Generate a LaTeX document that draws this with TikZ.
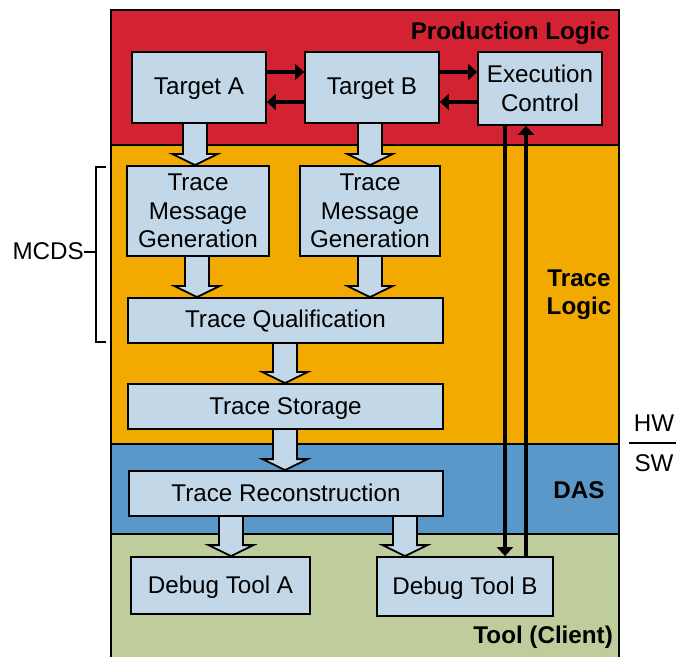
\documentclass[tikz,border=0pt]{standalone}
\usepackage{fontspec}
\setmainfont{Liberation Sans}
\usetikzlibrary{arrows.meta,calc}
\pgfdeclarelayer{bands}
\pgfdeclarelayer{shafts}
\pgfsetlayers{bands,shafts,main}
\definecolor{prodred}{RGB}{211,35,51}
\definecolor{traceorange}{RGB}{242,169,0}
\definecolor{dasblue}{RGB}{90,152,202}
\definecolor{toolgreen}{RGB}{190,205,155}
\definecolor{boxfill}{RGB}{194,216,232}
\newcommand\diagfont{\fontsize{24.2}{28.5}\selectfont}
\tikzset{
  band/.style={draw=black, line width=1.8pt},
  unitbox/.style={draw=black, line width=1.8pt, fill=boxfill, inner sep=0pt, align=center},
  oneline/.style={text height=20pt, text depth=5pt},
  bandlabel/.style={font=\diagfont\bfseries, inner sep=0pt},
  blockarrow/.style={draw=black, line width=1.8pt, fill=boxfill, line join=miter},
  thinarrow/.style={line width=3.4pt, -{Triangle[length=9pt,width=16pt]}},
  bracket/.style={line width=1.8pt},
}
% block arrow at horizontal position #1 from node #2 down to node #3
\newcommand\blockarrow[3]{%
  \begin{pgfonlayer}{shafts}
  \draw[blockarrow] let \p1=(#2.south), \p2=(#3.north) in
    (#1pt-12pt,\y1) -- (#1pt-12pt,\y2+11pt) -- (#1pt-22.5pt,\y2+11pt)
    -- (#1pt,\y2) -- (#1pt+22.5pt,\y2+11pt) -- (#1pt+12pt,\y2+11pt)
    -- (#1pt+12pt,\y1);
  \end{pgfonlayer}}
\begin{document}
\begin{tikzpicture}[x=1pt,y=1pt,font=\diagfont]
\useasboundingbox (0,0) rectangle (676,656);

% layer bands
\begin{pgfonlayer}{bands}
\fill[white] (0,0) rectangle (676,656);
\draw[band, fill=toolgreen] (111,122) rectangle (619,-5);
\draw[band, fill=dasblue] (111,212) rectangle (619,122);
\draw[band, fill=traceorange] (111,511) rectangle (619,212);
\draw[band, fill=prodred] (111,646) rectangle (619,511);
\end{pgfonlayer}

% band titles
\node[bandlabel, anchor=base east] (lprod) at (610,616.5) {Production Logic};
\node[bandlabel, anchor=base, align=center] (ltrace) at (579,341) {Trace\\Logic};
\node[bandlabel, anchor=base] (ldas) at (579,158) {DAS};
\node[bandlabel, anchor=base east] (ltool) at (613,13) {Tool (Client)};

% functional units
\node[unitbox, oneline, minimum width=134pt, minimum height=71pt] (ta) at (199,568.5) {Target A};
\node[unitbox, oneline, minimum width=134pt, minimum height=71pt] (tb) at (372,568.5) {Target B};
\node[unitbox, minimum width=124pt, minimum height=73pt] (ec) at (540,567.5) {Execution\\Control};
\node[unitbox, minimum width=142pt, minimum height=90pt] (tmga) at (198,445) {Trace\\Message\\Generation};
\node[unitbox, minimum width=140pt, minimum height=90pt] (tmgb) at (370,445) {Trace\\Message\\Generation};
\node[unitbox, oneline, minimum width=315pt, minimum height=45pt] (tq) at (285.5,335.5) {Trace Qualification};
\node[unitbox, oneline, minimum width=315pt, minimum height=45pt] (ts) at (285.5,249.5) {Trace Storage};
\node[unitbox, oneline, minimum width=314pt, minimum height=45pt] (tr) at (286,162.5) {Trace Reconstruction};
\node[unitbox, oneline, minimum width=179pt, minimum height=57pt] (dta) at (220.5,70.5) {Debug Tool A};
\node[unitbox, oneline, minimum width=176pt, minimum height=59pt] (dtb) at (465,69.5) {Debug Tool B};

% data flow
\blockarrow{195}{ta}{tmga}
\blockarrow{370}{tb}{tmgb}
\blockarrow{197}{tmga}{tq}
\blockarrow{370}{tmgb}{tq}
\blockarrow{285}{tq}{ts}
\blockarrow{285}{ts}{tr}
\blockarrow{231}{tr}{dta}
\blockarrow{405}{tr}{dtb}

% control links
\coordinate (upper) at (0,584);
\coordinate (lower) at (0,554);
\draw[thinarrow] (ta.east |- upper) -- (tb.west |- upper);
\draw[thinarrow] (tb.west |- lower) -- (ta.east |- lower);
\draw[thinarrow] (tb.east |- upper) -- (ec.west |- upper);
\draw[thinarrow] (ec.west |- lower) -- (tb.east |- lower);
\coordinate (down) at (505,0);
\coordinate (up) at (526,0);
\draw[thinarrow] (ec.south -| down) -- (dtb.north -| down);
\draw[thinarrow] (dtb.north -| up) -- (ec.south -| up);

% MCDS bracket
\node[anchor=base east, inner sep=0pt] (mcds) at (84,396) {MCDS};
\coordinate (brk) at (96,406);
\draw[bracket] (106,489) -- (96,489) -- (96,314) -- (106,314);
\draw[bracket] (mcds.east) -- (mcds.east -| brk);

% hardware / software split
\node[anchor=base, inner sep=0pt] (hw) at (654,225) {HW};
\node[anchor=base, inner sep=0pt] (sw) at (654,185) {SW};
\draw[line width=1.8pt] (629,213) -- (676,213);
\end{tikzpicture}
\end{document}
